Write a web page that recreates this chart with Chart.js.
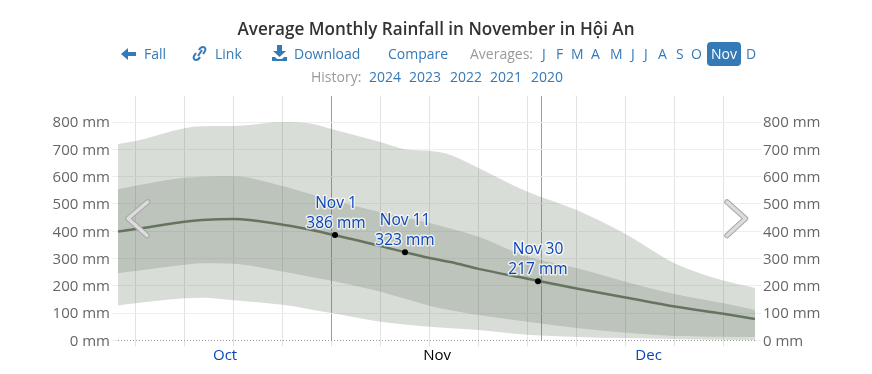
<!DOCTYPE html>
<html>
<head>
<meta charset="utf-8">
<title>Average Monthly Rainfall in November in Hội An</title>
<script src="https://cdn.jsdelivr.net/npm/chart.js@4"></script>
<style>
  html,body{margin:0;padding:0;background:#fff}
  body{width:872px;height:374px;overflow:hidden;position:relative;font-family:"Open Sans",sans-serif}
  #c{position:absolute;left:0;top:0}
  .t{position:absolute;white-space:nowrap;font-size:14px;line-height:20px;color:#337ab7}
  .g{color:#999}
  .on{background:#337ab7;color:#fff;border-radius:4px;padding:2px 4px}
  #title{position:absolute;left:0;width:872px;top:18px;text-align:center;font-size:17.1px;line-height:22px;font-weight:600;color:#333}
  svg.ic{position:absolute}
</style>
</head>
<body>
<canvas id="c" width="872" height="374"></canvas>
<div id="title">Average Monthly Rainfall in November in Hội An</div>
<div id="nav"></div>
<svg class="ic" style="left:121px;top:47px" width="15" height="14" viewBox="0 0 15 14"><path d="M0 7 7 1v4h8v4H7v4z" fill="#337ab7"/></svg>
<svg class="ic" style="left:192px;top:45px" width="15" height="17" viewBox="0 0 15 17"><path d="M6 11 10 5M4 8 2 11c-1 2 0 4 2 4s3-1 4-3M11 9l2-3c1-2 0-4-2-4S8 3 7 5" fill="none" stroke="#337ab7" stroke-width="2"/></svg>
<svg class="ic" style="left:272px;top:45px" width="15" height="16" viewBox="0 0 15 16"><path d="M5 0h5v6h4l-6.500 6L1 6h4zM0 12h3l2 2h5l2-2h3v4H0z" fill="#337ab7"/></svg>
<svg class="ic" style="left:0;top:0;pointer-events:none" width="872" height="374">
  <g fill="none" stroke-linecap="round" stroke-linejoin="round">
    <polyline points="147.500,202 128,218.500 147,235.500" stroke="#a6a6a6" stroke-width="5.500"/>
    <polyline points="147.500,202 128,218.500 147,235.500" stroke="#dcdcdc" stroke-width="3.500"/>
    <polyline points="727,202 745.500,218.500 727,235.500" stroke="#a6a6a6" stroke-width="5.500"/>
    <polyline points="727,202 745.500,218.500 727,235.500" stroke="#dcdcdc" stroke-width="3.500"/>
  </g>
</svg>
<script>
// days counted from the left edge of the plot (Oct 1)
const sampleDays = [0,2.5,9.5,12,16.5,23.5,27,30.5,37.5,41,44.5,47.5,51.5,58.5,65.5,72.5,79.5,86.5,91];
const p90 = [720,731,778,785,786,801,797,775,727,701,695,680,632,545,478,390,283,219,192];
const p75 = [554,567,596,600,602,566,540,515,470,450,430,410,380,307,265,215,170,136,111];
const median = [399,408,435,441,445,424,408,388,346,323,302,287,262,226,190,157,124,97,78];
const p25 = [246,254,277,283,281,252,235,218,178,152,127,110,93,68,45,28,16,13,12];
const p10 = [128,136,154,156,147,130,116,100,68,58,50,44,38,20,12,8,5,2,1];

const markDays = [31,41,60];
const markValues = [386,323,217];
const markNames = ['Nov 1','Nov 11','Nov 30'];

const gridDays = [2.5,9.5,16.5,23.5,30.5,37.5,44.5,51.5,58.5,60.5,65.5,72.5,79.5,86.5];
const darkDays = [30.5,60.5];
const monthDays = [15.3,45.6,75.8];
const monthNames = ['Oct','Nov','Dec'];
const yTicks = [0,100,200,300,400,500,600,700,800];

const nav1 = [['Fall',144],['Link',215],['Download',294],['Compare',388],['Averages:',470,'g'],
  ['J',542],['F',556],['M',571],['A',591],['M',610],['J',631],['J',644],['A',658],['S',676],['O',691],
  ['Nov',707,'on'],['D',746]];
const nav2 = [['History:',311,'g'],['2024',369],['2023',409],['2022',450],['2021',490],['2020',531]];

function addNav(list,top){
  const box=document.getElementById('nav');
  list.forEach(n=>{
    const s=document.createElement('span');
    s.className='t '+(n[2]||'');
    s.textContent=n[0];
    s.style.left=n[1]+'px';
    s.style.top=(n[2]==='on'?top-2:top)+'px';
    box.appendChild(s);
  });
}
addNav(nav1,44); addNav(nav2,67);

const pts=a=>a.map((v,i)=>({x:sampleDays[i],y:v}));
const OUTER='rgba(96,112,92,.24)', INNER='rgba(96,112,92,.23)';
const FONT='"Open Sans",sans-serif';

// date + value captions above the three marked days
const markLabels={
  id:'markLabels',
  afterDatasetsDraw(chart){
    const c=chart.ctx, m=chart.getDatasetMeta(5);
    c.save();
    c.font='15.5px '+FONT; c.textAlign='center'; c.textBaseline='alphabetic';
    c.lineJoin='round';
    m.data.forEach((p,i)=>{
      [[markNames[i],p.y-27],[markValues[i]+' mm',p.y-7]].forEach(l=>{
        c.strokeStyle='rgba(255,255,255,.7)'; c.lineWidth=3;
        c.strokeText(l[0],p.x+(i===0?1:0),l[1]);
        c.fillStyle='#0b46b8';
        c.fillText(l[0],p.x+(i===0?1:0),l[1]);
      });
    });
    c.restore();
  }
};

new Chart(document.getElementById('c'),{
  type:'line',
  data:{datasets:[
    {data:pts(p90),fill:4,backgroundColor:OUTER,borderWidth:0,pointRadius:0,cubicInterpolationMode:'monotone'},
    {data:pts(p75),fill:3,backgroundColor:INNER,borderWidth:0,pointRadius:0,cubicInterpolationMode:'monotone'},
    {data:pts(median),fill:false,borderColor:'#6b7664',borderWidth:2.5,pointRadius:0,cubicInterpolationMode:'monotone'},
    {data:pts(p25),fill:false,borderWidth:0,pointRadius:0,cubicInterpolationMode:'monotone'},
    {data:pts(p10),fill:false,borderWidth:0,pointRadius:0,cubicInterpolationMode:'monotone'},
    {data:markDays.map((d,i)=>({x:d,y:markValues[i]})),order:-1,showLine:false,pointRadius:3,pointBackgroundColor:'#000',pointBorderWidth:0}
  ]},
  options:{
    responsive:false,animation:false,
    layout:{padding:{top:96,left:0,right:0,bottom:0}},
    plugins:{legend:{display:false},tooltip:{enabled:false},title:{display:false}},
    scales:{
      x:{type:'linear',min:0,max:91,position:'bottom',weight:0,
        afterBuildTicks:s=>{s.ticks=gridDays.map(v=>({value:v}));},
        afterFit:s=>{s.height=6;},
        ticks:{display:false},
        border:{display:false},
        grid:{tickLength:6,
          color:ctx=>darkDays.includes(ctx.tick.value)?'#9a9f98':'#e2e2e2',
          tickColor:ctx=>ctx.tick.value===60.5?'transparent':'#e2e2e2'}
      },
      months:{type:'linear',min:0,max:91,position:'bottom',weight:1,
        afterBuildTicks:s=>{s.ticks=monthDays.map(v=>({value:v}));},
        afterFit:s=>{s.height=27.7;},
        border:{display:false},
        grid:{display:false,drawTicks:false},
        ticks:{autoSkip:false,maxRotation:0,padding:0,
          callback:(v,i)=>monthNames[i],
          color:ctx=>ctx.index===1?'#000':'#0b46b8',
          font:{family:FONT,size:15}}
      },
      y:{type:'linear',position:'left',min:0,max:896,
        afterBuildTicks:s=>{s.ticks=yTicks.map(v=>({value:v}));},
        afterFit:s=>{s.width=118;},
        border:{display:false,dash:ctx=>ctx.tick&&ctx.tick.value===0?[1,2]:[]},
        grid:{tickLength:6,color:ctx=>ctx.tick.value===0?'#999':'#eeeeee',tickColor:'#eeeeee'},
        ticks:{padding:2,labelOffset:1,color:'#666',font:{family:FONT,size:15},callback:v=>v+' mm'}
      },
      yRight:{type:'linear',position:'right',min:0,max:896,
        afterBuildTicks:s=>{s.ticks=yTicks.map(v=>({value:v}));},
        afterFit:s=>{s.width=117;},
        border:{display:false},
        grid:{drawOnChartArea:false,tickLength:6,tickColor:'#eeeeee'},
        ticks:{padding:2,labelOffset:1,color:'#666',font:{family:FONT,size:15},callback:v=>v+' mm'}
      }
    }
  },
  plugins:[markLabels]
});
</script>
</body>
</html>
